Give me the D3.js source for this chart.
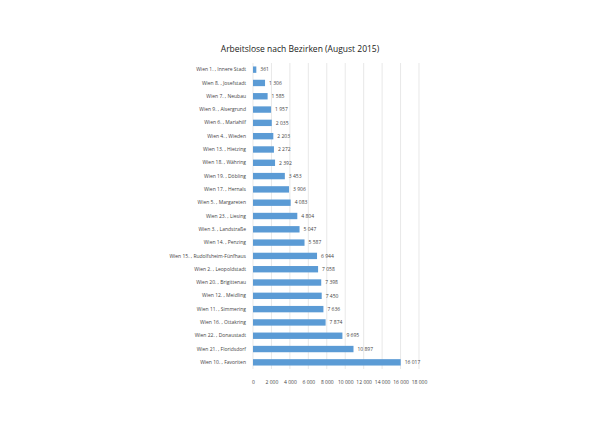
<!DOCTYPE html>
<html><head><meta charset="utf-8">
<script src="https://cdn.jsdelivr.net/npm/d3@7"></script>
<style>body{margin:0;background:#fff}text{font-family:"Open Sans",sans-serif}</style>
</head><body><div id="chart"></div>
<script>
const districts = ["Wien 1. , Innere Stadt","Wien 8. , Josefstadt","Wien 7. , Neubau","Wien 9. , Alsergrund","Wien 6. , Mariahilf","Wien 4. , Wieden","Wien 13. , Hietzing","Wien 18. , Währing","Wien 19. , Döbling","Wien 17. , Hernals","Wien 5. , Margareten","Wien 23. , Liesing","Wien 3. , Landstraße","Wien 14. , Penzing","Wien 15. , Rudolfsheim-Fünfhaus","Wien 2. , Leopoldstadt","Wien 20. , Brigittenau","Wien 12. , Meidling","Wien 11. , Simmering","Wien 16. , Ottakring","Wien 22. , Donaustadt","Wien 21. , Floridsdorf","Wien 10. , Favoriten"];
const unemployed = [361,1306,1585,1957,2035,2203,2272,2392,3453,3906,4083,4804,5047,5587,6944,7058,7398,7450,7636,7874,9695,10897,16017];
const xTicks = [0,2000,4000,6000,8000,10000,12000,14000,16000,18000];

const width = 600, height = 424;
const plotLeft = 253, plotRight = 419, plotTop = 63, plotBottom = 369;

const fmt = v => d3.format(",")(v).replace(/,/g, " ");

const svg = d3.select("#chart").append("svg").attr("width", width).attr("height", height);

svg.append("text").attr("x", 300).attr("y", 52).attr("text-anchor", "middle")
  .style("font-size", "8.5px").attr("fill", "#222").text("Arbeitslose nach Bezirken (August 2015)");

const x = d3.scaleLinear().domain([0, 18000]).range([plotLeft, plotRight]);
const y = d3.scaleBand().domain(districts).range([plotTop, plotBottom]).paddingInner(0.52).paddingOuter(0.26);

svg.append("g").selectAll("line").data(xTicks).enter().append("line")
  .attr("x1", d => x(d)).attr("x2", d => x(d)).attr("y1", plotTop).attr("y2", plotBottom)
  .attr("stroke", "#d9d9d9").attr("stroke-width", 0.6);

const xAxis = svg.append("g").attr("transform", "translate(0," + (plotBottom + 8) + ")")
  .call(d3.axisBottom(x).tickValues(xTicks).tickFormat(fmt).tickSize(0));
xAxis.select(".domain").remove();
xAxis.selectAll("text").style("font-size", "5px").attr("fill", "#444");

const yAxis = svg.append("g").attr("transform", "translate(" + (plotLeft - 4) + ",0)")
  .call(d3.axisLeft(y).tickSize(0));
yAxis.select(".domain").remove();
yAxis.selectAll("text").style("font-size", "5px").attr("fill", "#444");

svg.append("g").selectAll("rect").data(unemployed).enter().append("rect")
  .attr("x", x(0)).attr("y", (d, i) => y(districts[i]))
  .attr("width", d => x(d) - x(0)).attr("height", y.bandwidth())
  .attr("fill", "#5b9bd5");

svg.append("g").selectAll("text").data(unemployed).enter().append("text")
  .attr("x", d => x(d) + 4).attr("y", (d, i) => y(districts[i]) + y.bandwidth() / 2)
  .attr("dy", "0.35em").style("font-size", "5px").attr("fill", "#444").text(fmt);
</script></body></html>
